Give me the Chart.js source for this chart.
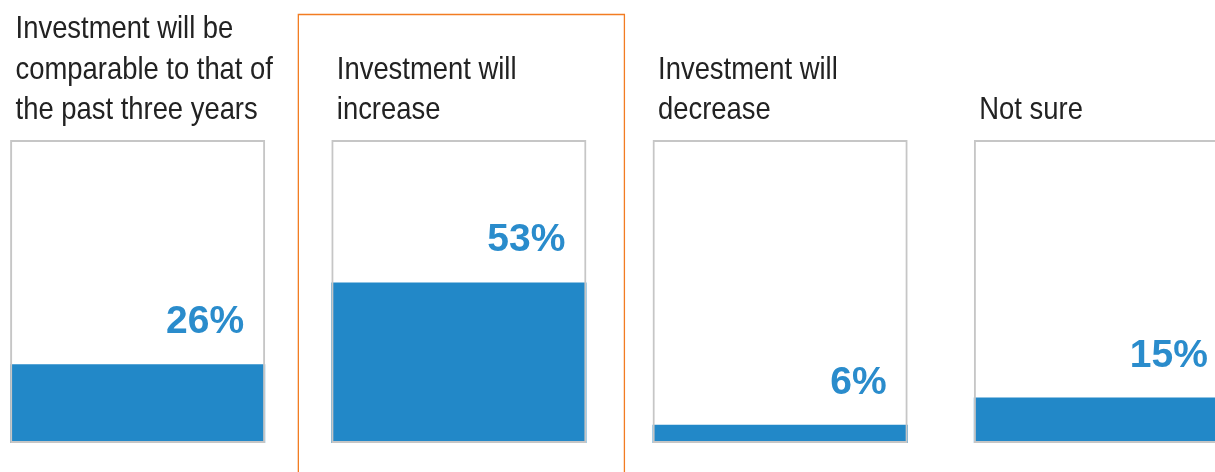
<!DOCTYPE html>
<html>
<head>
<meta charset="utf-8">
<script src="https://cdn.jsdelivr.net/npm/chart.js@4"></script>
<style>
  html, body { margin: 0; padding: 0; background: #ffffff; overflow: hidden; width: 1215px; height: 472px; }
  #wrap { position: absolute; left: -23px; top: 0; width: 1285px; height: 472px; }
</style>
</head>
<body>
<div id="wrap"><canvas id="c" width="1285" height="472"></canvas></div>
<script>
// ---- data ----
const categories = [
  ["Investment will be", "comparable to that of", "the past three years"],
  ["Investment will", "increase"],
  ["Investment will", "decrease"],
  ["Not sure"]
];
const values = [26, 53, 6, 15];
const fullScale = [100, 100, 100, 100];
const highlightIndex = 1;

// ---- styles ----
const BLUE = '#2288c8';
const LABEL_BLUE = '#2a8ccc';
const BOX_GREY = '#c6c6c6';
const ORANGE = '#f27c22';
const TEXT = '#222222';

const overlayPlugin = {
  id: 'overlay',
  afterDatasetsDraw(chart) {
    const ctx = chart.ctx;
    const barMeta = chart.getDatasetMeta(0);
    const area = chart.chartArea;
    // titles and value labels
    barMeta.data.forEach((bar, i) => {
      const left = bar.x - bar.width / 2;
      const right = bar.x + bar.width / 2;
      // title (narrow sans)
      const lines = categories[i];
      ctx.save();
      ctx.fillStyle = TEXT;
      ctx.font = '32px "Liberation Sans", Arial, sans-serif';
      ctx.textAlign = 'left';
      ctx.textBaseline = 'alphabetic';
      const lastBase = area.top - 21;
      lines.forEach((ln, k) => {
        const y = lastBase - (lines.length - 1 - k) * 40.5;
        ctx.save();
        ctx.translate(left + 5.5, y);
        ctx.scale(0.856, 1);
        ctx.fillText(ln, 0, 0);
        ctx.restore();
      });
      ctx.restore();
      // value label
      ctx.save();
      ctx.fillStyle = LABEL_BLUE;
      ctx.font = 'bold 39px "Liberation Sans", Arial, sans-serif';
      ctx.textAlign = 'right';
      ctx.textBaseline = 'alphabetic';
      ctx.fillText(values[i] + '%', right - 21, bar.y - 31);
      ctx.restore();
    });
    // highlight frame
    const hb = barMeta.data[highlightIndex];
    if (hb) {
      const l = hb.x - hb.width / 2 - 33;
      const r = hb.x + hb.width / 2 + 38;
      ctx.save();
      ctx.strokeStyle = ORANGE;
      ctx.lineWidth = 1.3;
      ctx.beginPath();
      ctx.moveTo(l, chart.height + 5);
      ctx.lineTo(l, 14.5);
      ctx.lineTo(r, 14.5);
      ctx.lineTo(r, chart.height + 5);
      ctx.stroke();
      ctx.restore();
    }
  }
};

new Chart(document.getElementById('c'), {
  type: 'bar',
  data: {
    labels: categories.map(c => c.join(' ')),
    datasets: [
      {
        label: 'Share',
        data: values,
        backgroundColor: BLUE,
        borderWidth: 0,
        grouped: false,
        order: 1,
        barPercentage: 0.794,
        categoryPercentage: 1.0
      },
      {
        label: 'Frame',
        data: fullScale,
        backgroundColor: 'rgba(0,0,0,0)',
        borderColor: BOX_GREY,
        borderWidth: 2,
        borderSkipped: false,
        grouped: false,
        order: 0,
        barPercentage: 0.794,
        categoryPercentage: 1.0
      }
    ]
  },
  options: {
    responsive: false,
    animation: false,
    devicePixelRatio: 1,
    layout: { padding: { top: 140, bottom: 29, left: 0, right: 0 } },
    plugins: { legend: { display: false }, tooltip: { enabled: false }, title: { display: false } },
    scales: {
      x: { display: false, offset: true, grid: { display: false } },
      y: { display: false, min: 0, max: 100, grid: { display: false } }
    }
  },
  plugins: [overlayPlugin]
});
</script>
</body>
</html>
